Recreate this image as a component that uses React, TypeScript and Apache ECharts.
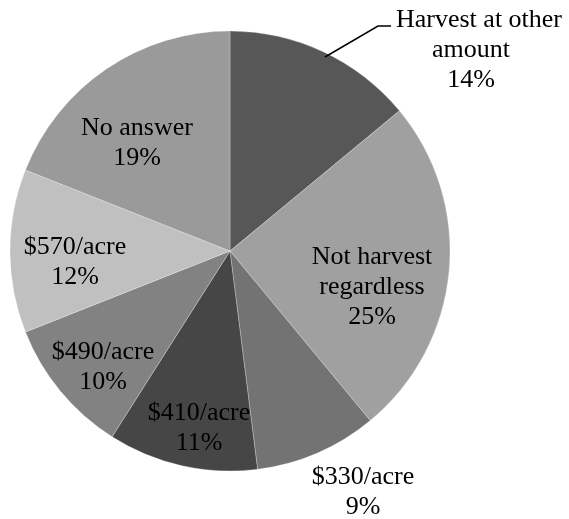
import React, { useEffect, useRef } from "react";
import * as echarts from "echarts";

const categories = [
  "Harvest at other amount",
  "Not harvest regardless",
  "$330/acre",
  "$410/acre",
  "$490/acre",
  "$570/acre",
  "No answer",
];
const labelNames = [
  "Harvest at other\namount",
  "Not harvest\nregardless",
  "$330/acre",
  "$410/acre",
  "$490/acre",
  "$570/acre",
  "No answer",
];
const shares = [14, 25, 9, 11, 10, 12, 19];

const sliceColors = ["#575757", "#a0a0a0", "#737373", "#464646", "#828282", "#c0c0c0", "#9a9a9a"];
// label block centres (px) within the 569x519 canvas
const labelCentres: [number, number][] = [
  [471, 48],
  [372, 285],
  [363, 490],
  [199, 426],
  [103, 365],
  [75, 260],
  [137, 141],
];
const leaderLine: [number, number][] = [
  [325, 57],
  [378, 26],
  [391, 26],
];

function buildLabels() {
  const els: any[] = [];
  const lineGap = 30;
  categories.forEach((_, i) => {
    const lines = (labelNames[i] + "\n" + shares[i] + "%").split("\n");
    const [cx, cy] = labelCentres[i];
    lines.forEach((txt, k) => {
      const y = cy + (k - (lines.length - 1) / 2) * lineGap;
      const x = i === 0 && k === 0 ? cx + 8 : cx;
      els.push({
        type: "text",
        x,
        y,
        z: 20,
        silent: true,
        style: {
          text: txt,
          font: "26px 'Liberation Serif', 'Times New Roman', serif",
          fill: "#000",
          align: "center",
          verticalAlign: "middle",
        },
      });
    });
  });
  return els;
}

export default function App() {
  const ref = useRef<HTMLDivElement>(null);
  useEffect(() => {
    if (!ref.current) return;
    const chart = echarts.init(ref.current, undefined, { renderer: "svg" });
    chart.setOption({
      animation: false,
      color: sliceColors,
      graphic: [
        {
          type: "polyline",
          shape: { points: leaderLine },
          style: { stroke: "#000", lineWidth: 1.5, fill: "none" },
          z: 10,
        },
        ...buildLabels(),
      ],
      series: [
        {
          type: "pie",
          center: [230, 251],
          radius: 220,
          startAngle: 90,
          clockwise: true,
          avoidLabelOverlap: false,
          data: categories.map((name, i) => ({ name, value: shares[i] })),
          itemStyle: { borderColor: "rgba(255,255,255,0.35)", borderWidth: 0.75 },
          label: { show: false },
          labelLine: { show: false },
          emphasis: { disabled: true },
        },
      ],
    });
    return () => chart.dispose();
  }, []);
  return (
    <div
      ref={ref}
      style={{ position: "fixed", left: 0, top: 0, width: 569, height: 519 }}
    />
  );
}
